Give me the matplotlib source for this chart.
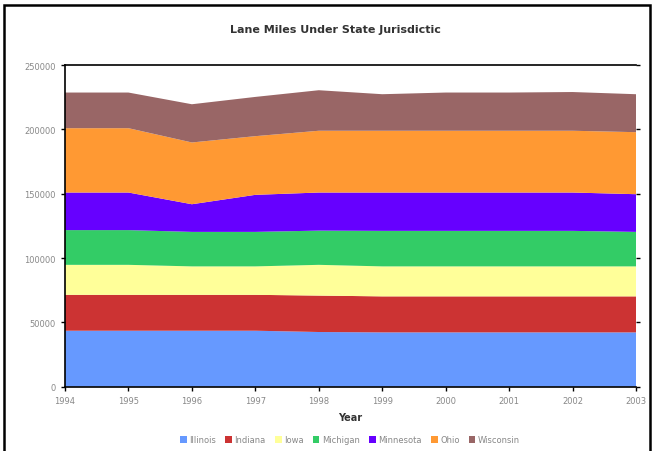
import matplotlib
matplotlib.use("Agg")
import matplotlib.pyplot as plt
from matplotlib.patches import Rectangle

years = [1994, 1995, 1996, 1997, 1998, 1999, 2000, 2001, 2002, 2003]
states = ["Illinois", "Indiana", "Iowa", "Michigan", "Minnesota", "Ohio", "Wisconsin"]
illinois = [43500, 43500, 43500, 43500, 42500, 42200, 42200, 42200, 42200, 42200]
indiana = [27900, 27900, 27900, 27900, 28300, 28000, 28000, 28000, 28000, 28000]
iowa = [23300, 23300, 22100, 22100, 23900, 23300, 23300, 23300, 23300, 23300]
michigan = [27000, 27000, 26800, 26800, 26600, 27600, 27600, 27600, 27600, 26800]
minnesota = [29200, 29200, 21500, 28800, 29600, 29800, 29800, 29800, 29800, 29300]
ohio = [50000, 50000, 48000, 45600, 48000, 48000, 48000, 48000, 48000, 48200]
wisconsin = [27700, 27700, 29700, 30500, 31500, 28400, 29700, 29700, 30100, 29500]
colors = ["#6699FF", "#CC3333", "#FFFF99", "#33CC66", "#6600FF", "#FF9933", "#996666"]
yticks = [0, 50000, 100000, 150000, 200000, 250000]

fig = plt.figure(figsize=(6.53, 4.52), dpi=100)
ax = fig.add_axes([65/653, 1-387.7/452, (636-65)/653, (387.7-66)/452])
ax.stackplot(years, illinois, indiana, iowa, michigan, minnesota, ohio, wisconsin,
             colors=colors, labels=states, linewidth=0)
ax.set_xlim(1994, 2003)
ax.set_ylim(0, 250000)
ax.set_xticks(years)
ax.set_xticklabels([str(y) for y in years])
ax.set_yticks(yticks)
ax.set_yticklabels([str(t) for t in yticks])
ax.tick_params(axis="both", labelsize=6, labelcolor="#888888", length=3, width=1, color="black")
ax.tick_params(axis="y", right=True, labelright=False)
for s in ["left", "bottom", "top"]:
    ax.spines[s].set_color("black")
    ax.spines[s].set_linewidth(1.2)
ax.spines["right"].set_visible(False)
ax.set_xlabel("Year", fontsize=7, fontweight="bold", color="#333333", labelpad=5)
fig.text(335/653, 1-30/452, "Lane Miles Under State Jurisdictic", ha="center", va="center",
         fontsize=8, fontweight="bold", color="#333333")
leg = fig.legend(loc="center", bbox_to_anchor=(350/653, 1-441/452), ncol=7, frameon=False,
                 fontsize=6, handlelength=0.8, handleheight=0.9, handletextpad=0.3,
                 columnspacing=1.1)
for t in leg.get_texts():
    t.set_color("#888888")
fig.patches.append(Rectangle((4/653, -0.1), (650-4)/653, 1.1-6/452, transform=fig.transFigure,
                             fill=False, edgecolor="black", linewidth=1.8))
fig.savefig("out.png", dpi=100)
